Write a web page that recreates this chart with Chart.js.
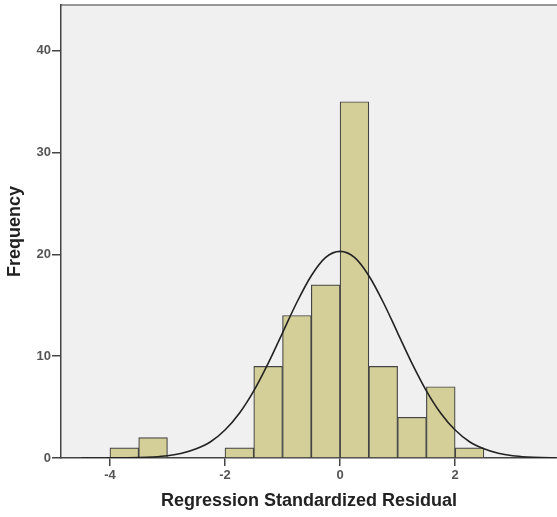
<!DOCTYPE html>
<html>
<head>
<meta charset="utf-8">
<script src="https://cdn.jsdelivr.net/npm/chart.js@4"></script>
<style>
  html, body { margin: 0; padding: 0; background: #fff; }
  #wrap { width: 557px; height: 517px; }
</style>
</head>
<body>
<div id="wrap"><canvas id="histChart"></canvas></div>
<script>
// histogram bins (left edge of each bin) and frequencies
const binStarts = [-4, -3.5, -2, -1.5, -1, -0.5, 0, 0.5, 1, 1.5, 2];
const counts = [1, 2, 1, 9, 14, 17, 35, 9, 4, 7, 1];
const binWidth = 0.5;

// normal curve
const curveX = [-4.5, -4.25, -4, -3.75, -3.5, -3.25, -3, -2.75, -2.5, -2.25, -2, -1.75, -1.5, -1.25, -1, -0.75, -0.5, -0.25,
  0, 0.25, 0.5, 0.75, 1, 1.25, 1.5, 1.75, 2, 2.25, 2.5, 2.75, 3, 3.25, 3.5, 3.75];
const curveY = [0, 0, 0.01, 0.02, 0.04, 0.1, 0.22, 0.46, 0.9, 1.6, 2.75, 4.4, 6.6, 9.3, 12.3, 15.3, 17.9, 19.7,
  20.3, 19.7, 17.9, 15.3, 12.3, 9.3, 6.6, 4.4, 2.75, 1.6, 0.9, 0.46, 0.22, 0.1, 0.04, 0.02];

const xTicks = [-4, -2, 0, 2];
const yTicks = [0, 10, 20, 30, 40];

const barData = binStarts.map((s, i) => ({ x: s + binWidth / 2, y: counts[i] }));
const curveData = curveX.map((x, i) => ({ x: x, y: curveY[i] }));

// plot background + top frame
const plotBg = {
  id: 'plotBg',
  beforeDraw(chart) {
    const { ctx, chartArea: a } = chart;
    ctx.save();
    ctx.fillStyle = '#fff';
    ctx.fillRect(0, 0, chart.width, chart.height);
    ctx.fillStyle = '#f0f0f0';
    ctx.fillRect(a.left, a.top, a.right - a.left, a.bottom - a.top);
    ctx.strokeStyle = '#777';
    ctx.lineWidth = 1.5;
    ctx.beginPath();
    ctx.moveTo(a.left, a.top);
    ctx.lineTo(a.right, a.top);
    ctx.stroke();
    ctx.restore();
  }
};

const tickFont = { family: 'Liberation Sans, Arial', size: 13, weight: 'bold' };
const titleFont = { family: 'Liberation Sans, Arial', size: 18, weight: 'bold' };

new Chart(document.getElementById('histChart'), {
  type: 'bar',
  data: {
    datasets: [
      {
        type: 'line',
        data: curveData,
        borderColor: '#222',
        borderWidth: 1.6,
        pointRadius: 0,
        cubicInterpolationMode: 'monotone',
        fill: false,
        order: 0
      },
      {
        type: 'bar',
        data: barData,
        backgroundColor: '#d4cf98',
        borderColor: '#444',
        borderWidth: 1.2,
        barPercentage: 1,
        categoryPercentage: 1,
        order: 1
      }
    ]
  },
  options: {
    responsive: true,
    maintainAspectRatio: false,
    animation: false,
    layout: { padding: { top: 5, right: 0, left: 0, bottom: 0 } },
    plugins: {
      legend: { display: false },
      tooltip: { enabled: false }
    },
    scales: {
      x: {
        type: 'linear',
        min: -4.85,
        max: 3.77,
        offset: false,
        afterFit(scale) { scale.height = 59; scale.paddingLeft = 0; scale.paddingRight = 0; },
        afterBuildTicks(scale) { scale.ticks = xTicks.map(v => ({ value: v })); },
        ticks: { font: tickFont, color: '#555', padding: 2, maxRotation: 0 },
        grid: { offset: false, drawOnChartArea: false, drawTicks: true, tickLength: 8, color: '#444', lineWidth: 1.5 },
        border: { display: true, color: '#444', width: 1.5 },
        title: { display: true, text: 'Regression Standardized Residual', font: titleFont, color: '#222', padding: { top: 0, bottom: 5 } }
      },
      y: {
        min: 0,
        max: 44.5,
        afterFit(scale) { scale.width = 61; scale.paddingTop = 0; scale.paddingBottom = 0; },
        afterBuildTicks(scale) { scale.ticks = yTicks.map(v => ({ value: v })); },
        ticks: { font: tickFont, color: '#555', padding: 1 },
        grid: { drawOnChartArea: false, drawTicks: true, tickLength: 9, color: '#444', lineWidth: 1.5 },
        border: { display: true, color: '#444', width: 1.5 },
        title: { display: true, text: 'Frequency', font: titleFont, color: '#222', padding: { top: 4, bottom: 0 } }
      }
    }
  },
  plugins: [plotBg]
});
</script>
</body>
</html>
